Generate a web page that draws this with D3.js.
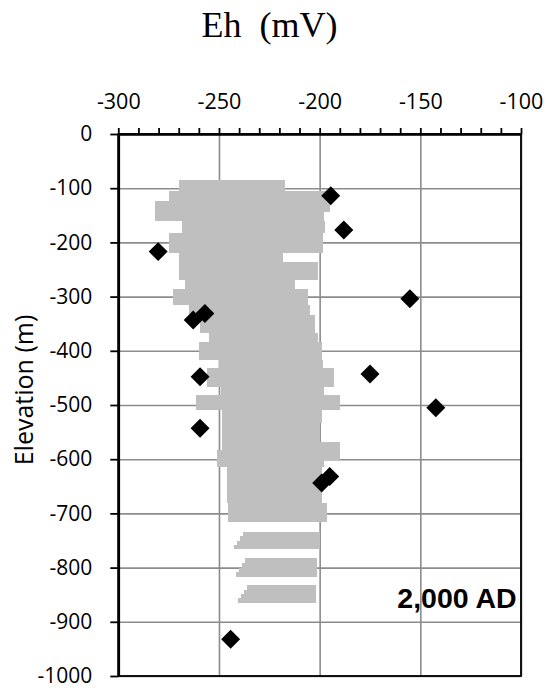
<!DOCTYPE html>
<html>
<head>
<meta charset="utf-8">
<script src="https://cdn.jsdelivr.net/npm/d3@7"></script>
<style>
  body { margin: 0; background: #fff; }
</style>
</head>
<body>
<div class="js-chart"></div>
<script>
// observed Eh values (diamonds)
let obsEh   = [-194.5, -188, -280.2, -155.2, -257, -262.8, -259.4, -175, -142.3, -259.4, -195, -199, -244.2];
let obsElev = [-114, -177, -217, -304, -331, -343, -448, -443, -505, -543, -632, -644, -932];

// simulated range bands: [top elev, bottom elev, min Eh, max Eh]
let simBands = [
    [-85, -106, -270, -217],
    [-106, -124, -275, -195],
    [-124, -143, -282, -195],
    [-143, -160, -282, -198],
    [-160, -183, -268.5, -197.5],
    [-183, -220, -275, -198.5],
    [-220, -236, -270, -218.4],
    [-236, -269, -270, -200.8],
    [-269, -286, -267, -212],
    [-286, -315, -273, -206],
    [-315, -334, -265, -205],
    [-334, -368, -259.5, -202.5],
    [-368, -383, -255, -201],
    [-383, -417, -260, -199],
    [-417, -432, -250, -198.5],
    [-432, -466, -256, -193],
    [-466, -481, -249, -198],
    [-481, -509, -261.5, -190],
    [-509, -533, -248.5, -199],
    [-533, -568, -248.5, -200],
    [-568, -583, -248.5, -190],
    [-583, -601, -251, -190],
    [-601, -614, -251, -198],
    [-614, -681, -246, -199],
    [-681, -715, -245.5, -196.5],
    [-734, -742, -238, -200],
    [-742, -750, -239.5, -200],
    [-750, -758, -241, -200],
    [-758, -766, -242.5, -200],
    [-783, -792, -237, -201.5],
    [-792, -800, -238.5, -201.5],
    [-800, -808, -240, -201.5],
    [-808, -817, -241.5, -201.5],
    [-832, -841, -236, -202],
    [-841, -849, -237.5, -202],
    [-849, -857, -239, -202],
    [-857, -866, -240.5, -202]
];

let xTicks = [-300, -250, -200, -150, -100];
let xMinorTicks = [-290, -280, -270, -260, -240, -230, -220, -210, -190, -180, -170, -160, -140, -130, -120, -110];
let yTicks = [0, -100, -200, -300, -400, -500, -600, -700, -800, -900, -1000];

let width = 548,
    height = 688;

let x = d3.scaleLinear().domain([-300, -100]).range([118.3, 521]);
let y = d3.scaleLinear().domain([0, -1000]).range([134, 676]);

let fmt = d => String(d); // plain hyphen, as in the original

let svg = d3.select('.js-chart').append("svg")
    .attr("width", width)
    .attr("height", height);

// gridlines
svg.append("g")
    .attr("transform", "translate(0," + y(0) + ")")
    .call(d3.axisTop(x).tickValues(xTicks).tickSize(-(y(-1000) - y(0))).tickFormat(""))
    .call(g => g.select(".domain").remove())
    .selectAll("line").attr("stroke", "#8c8c8c").attr("stroke-width", 1.6);

svg.append("g")
    .attr("transform", "translate(" + x(-300) + ",0)")
    .call(d3.axisLeft(y).tickValues(yTicks).tickSize(-(x(-100) - x(-300))).tickFormat(""))
    .call(g => g.select(".domain").remove())
    .selectAll("line").attr("stroke", "#8c8c8c").attr("stroke-width", 1.6);

// simulated bands (pixel-snapped so neighbouring rows meet without seams)
let px = v => Math.round(x(v)),
    py = v => Math.round(y(v));
svg.append("g")
    .attr("shape-rendering", "crispEdges")
    .selectAll("rect")
    .data(simBands)
    .join("rect")
    .attr("x", d => px(d[2]))
    .attr("y", d => py(d[0]))
    .attr("width", d => px(d[3]) - px(d[2]))
    .attr("height", d => py(d[1]) - py(d[0]))
    .attr("fill", "#bfbfbf");

// plot frame (right + bottom)
svg.append("rect")
    .attr("x", x(-300))
    .attr("y", y(0))
    .attr("width", x(-100) - x(-300))
    .attr("height", y(-1000) - y(0))
    .attr("fill", "none")
    .attr("stroke", "#000")
    .attr("stroke-width", 1.8);

// top axis
let topAxis = svg.append("g")
    .attr("transform", "translate(0," + y(0) + ")")
    .call(d3.axisTop(x).tickValues(xTicks).tickSize(6).tickPadding(19).tickSizeOuter(0).tickFormat(fmt));
topAxis.append("g")
    .call(d3.axisTop(x).tickValues(xMinorTicks).tickSize(6).tickFormat(""))
    .call(g => g.select(".domain").remove());
topAxis.selectAll("line").attr("stroke", "#000").attr("stroke-width", 1.8);
topAxis.select(".domain").attr("stroke", "#000").attr("stroke-width", 2.6);
topAxis.selectAll("text")
    .attr("font-family", "'Open Sans', sans-serif")
    .attr("font-size", 21.5)
    .attr("fill", "#000");

// left axis
let leftAxis = svg.append("g")
    .attr("transform", "translate(" + x(-300) + ",0)")
    .call(d3.axisLeft(y).tickValues(yTicks).tickSize(8).tickPadding(18).tickSizeOuter(0).tickFormat(fmt));
leftAxis.selectAll("line").attr("stroke", "#000").attr("stroke-width", 1.8);
leftAxis.select(".domain").attr("stroke", "#000").attr("stroke-width", 2.6);
leftAxis.selectAll("text")
    .attr("font-family", "'Open Sans', sans-serif")
    .attr("font-size", 21)
    .attr("fill", "#000");

// observed points
svg.append("g")
    .selectAll("path")
    .data(obsEh)
    .join("path")
    .attr("d", d3.symbol().type(d3.symbolSquare).size(180))
    .attr("transform", (d, i) => "translate(" + x(d) + "," + y(obsElev[i]) + ") rotate(45)")
    .attr("fill", "#000");

// labels
svg.append("text")
    .attr("x", 269.5)
    .attr("y", 37)
    .attr("text-anchor", "middle")
    .attr("font-family", "'Liberation Serif', 'Times New Roman', serif")
    .attr("font-size", 36)
    .style("white-space", "pre")
    .text("Eh  (mV)");

svg.append("text")
    .attr("transform", "translate(33,390) rotate(-90)")
    .attr("text-anchor", "middle")
    .attr("font-family", "'Open Sans', sans-serif")
    .attr("font-size", 25)
    .text("Elevation (m)");

svg.append("text")
    .attr("x", 516.7)
    .attr("y", 608)
    .attr("text-anchor", "end")
    .attr("font-family", "'Liberation Sans', Arial, sans-serif")
    .attr("font-weight", "bold")
    .attr("font-size", 28.5)
    .text("2,000 AD");
</script>
</body>
</html>
